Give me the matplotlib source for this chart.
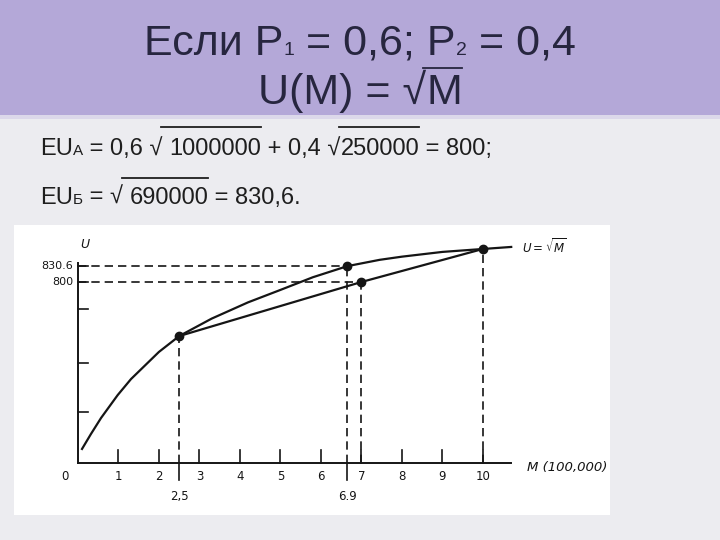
import matplotlib
matplotlib.use("Agg")
import matplotlib.pyplot as plt
from matplotlib.lines import Line2D
from matplotlib.patches import Rectangle
from matplotlib.transforms import IdentityTransform

# Кривая полезности U = sqrt(M), как она нарисована на слайде (схематично)
m_curve = [0.1, 0.32, 0.57, 0.98, 1.31, 2.0, 2.5, 3.3, 4.2, 5.0, 5.8, 6.65, 7.45, 8.0, 9.0, 10.0, 10.7]
u_curve = [62, 128, 199, 300, 371, 491, 561, 638, 710, 765, 821, 870, 898, 912, 933, 946, 955]

# Хорда между исходами 2,5 и 10
chord_m = [2.5, 7.0, 10.0]
chord_u = [561, 800, 946]

# Отмеченные точки
point_m = [2.5, 6.65, 7.0, 10.0]
point_u = [561, 870, 800, 946]

# Оси
m_ticks = [1, 2, 3, 4, 5, 6, 7, 8, 9, 10]
m_marks = [2.5, 6.65]
m_mark_labels = ["2,5", "6.9"]
u_marks = [870, 800]
u_mark_labels = ["830.6", "800"]
u_plain_ticks = [225, 442, 681]

BAND = "#b4a8d8"
BG = "#ececf0"
TITLE_C = "#27263f"
TEXT_C = "#1e1e1e"
INK = "#151515"

fig = plt.figure(figsize=(7.2, 5.4), dpi=100)
fig.patch.set_facecolor(BG)
fig.add_artist(Rectangle((0, 425), 720, 115, transform=IdentityTransform(),
                         facecolor=BAND, edgecolor="none"))
fig.add_artist(Rectangle((0, 421), 720, 4, transform=IdentityTransform(),
                         facecolor="#dcd8ea", edgecolor="none"))

renderer = fig.canvas.get_renderer()


def put_run(x, y_top, parts, color, family, center=False):
    """Пишет строку из кусочков; y_top - базовая линия в пикселях сверху.
    bar = None или (на сколько продлить черту влево, высота черты над базовой линией)."""
    y = 540 - y_top
    texts = []
    for s, size, bar in parts:
        t = fig.text(x, y, s, fontsize=size, color=color, family=family,
                     va="baseline", ha="left", transform=IdentityTransform())
        bb = t.get_window_extent(renderer)
        texts.append((t, bar))
        x = bb.x1
    if center:
        x0 = texts[0][0].get_window_extent(renderer).x0
        x1 = texts[-1][0].get_window_extent(renderer).x1
        shift = 360 - (x0 + x1) / 2
        for t, bar in texts:
            t.set_x(t.get_position()[0] + shift)
    for t, bar in texts:
        if bar:
            bb = t.get_window_extent(renderer)
            fig.add_artist(Line2D([bb.x0 - bar[0], bb.x1], [y + bar[1]] * 2, color=color,
                                  lw=1.3, transform=IdentityTransform()))


title_font = ["Liberation Sans", "DejaVu Sans"]
body_font = ["Liberation Sans", "DejaVu Sans"]

put_run(0, 55, [("Если P", 31, None), ("1", 14, None), (" = 0,6; P", 31, None),
                ("2", 14, None), (" = 0,4", 31, None)], TITLE_C, title_font, center=True)
put_run(0, 104, [("U(M) = √", 31, None), ("M", 31, (3, 36))], TITLE_C, title_font, center=True)

put_run(40, 155, [("EU", 17, None), ("А", 11, None), (" = 0,6 √ ", 17, None),
                  ("1000000", 17, (8, 28)), (" + 0,4 √", 17, None), ("250000", 17, (1, 28)),
                  (" = 800;", 17, None)], TEXT_C, body_font)
put_run(40, 204, [("EU", 17, None), ("Б", 11, None), (" = √ ", 17, None),
                  ("690000", 17, (8, 26)), (" = 830,6.", 17, None)], TEXT_C, body_font)

# Белая вставка с графиком
ax = fig.add_axes([14 / 720, 25 / 540, 596 / 720, 290 / 540])
ax.set_facecolor("white")
ax.set_xlim(-1.58, 13.14)
ax.set_ylim(-230, 1052)
for s in ax.spines.values():
    s.set_visible(False)
ax.set_xticks([])
ax.set_yticks([])

dash = dict(color=INK, lw=1.2, ls=(0, (5, 3)))

# пунктирные проекции
ax.plot([0, point_m[1]], [u_marks[0], u_marks[0]], **dash)
ax.plot([0, point_m[2]], [u_marks[1], u_marks[1]], **dash)
for m, u in zip(point_m, point_u):
    ax.plot([m, m], [0, u], **dash)

# оси
ax.plot([0, 10.7], [0, 0], color=INK, lw=1.4)
ax.plot([0, 0], [0, 884], color=INK, lw=1.4)
for m in m_ticks:
    ax.plot([m, m], [0, 57], color=INK, lw=1.2)
    ax.text(m, -62, str(m), ha="center", va="center", fontsize=8.5, color=INK)
ax.text(-0.32, -62, "0", ha="center", va="center", fontsize=8.5, color=INK)
for m, lab in zip(m_marks, m_mark_labels):
    ax.plot([m, m], [0, -75], color=INK, lw=1.2)
    ax.text(m, -150, lab, ha="center", va="center", fontsize=8.5, color=INK)
for u in u_plain_ticks + u_marks:
    ax.plot([0, 0.25], [u, u], color=INK, lw=1.2)
for u, lab in zip(u_marks, u_mark_labels):
    ax.text(-0.12, u, lab, ha="right", va="center", fontsize=8, color=INK)

# кривая и хорда
ax.plot(m_curve, u_curve, color=INK, lw=1.6, solid_joinstyle="round")
ax.plot(chord_m, chord_u, color=INK, lw=1.6)
ax.plot(point_m, point_u, "o", color=INK, ms=6)

ax.text(0.05, 964, "U", ha="left", va="center", fontsize=9, style="italic", color=INK)
ax.text(10.96, 955, r"$U = \sqrt{M}$", ha="left", va="center", fontsize=8.5, color=INK)
ax.text(11.09, -22, "M (100,000)", ha="left", va="center", fontsize=9.5,
        style="italic", color=INK)

fig.savefig("out.png", dpi=100, facecolor=fig.get_facecolor())
